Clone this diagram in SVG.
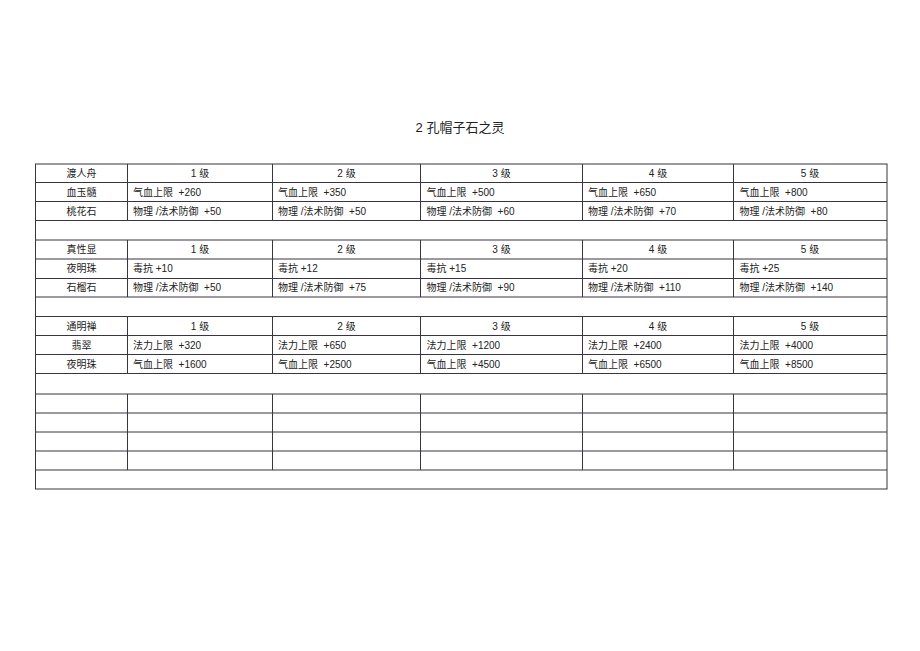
<svg xmlns="http://www.w3.org/2000/svg" width="920" height="651" viewBox="0 0 920 651">
<style>
text{font-family:"Liberation Sans","Noto Sans CJK SC",sans-serif;font-size:10px;fill:#222;white-space:pre}
.t{font-size:13px;text-anchor:middle}
.m{text-anchor:middle}
.g line{stroke:#3a3340;stroke-width:1}
.g rect{fill:none;stroke:#3a3340;stroke-width:1}
</style>
<rect x="0" y="0" width="920" height="651" fill="#ffffff"/>
<g id="title"><text class="t" x="460" y="132" xml:space="preserve">2 孔帽子石之灵</text></g>
<g id="grid" class="g">
<rect x="35.5" y="164" width="851.5" height="325"/>
<line x1="35.5" y1="182.5" x2="887" y2="182.5"/>
<line x1="35.5" y1="201.5" x2="887" y2="201.5"/>
<line x1="35.5" y1="220.5" x2="887" y2="220.5"/>
<line x1="35.5" y1="240" x2="887" y2="240"/>
<line x1="35.5" y1="259" x2="887" y2="259"/>
<line x1="35.5" y1="278.5" x2="887" y2="278.5"/>
<line x1="35.5" y1="297" x2="887" y2="297"/>
<line x1="35.5" y1="316.5" x2="887" y2="316.5"/>
<line x1="35.5" y1="335.5" x2="887" y2="335.5"/>
<line x1="35.5" y1="354.5" x2="887" y2="354.5"/>
<line x1="35.5" y1="373.5" x2="887" y2="373.5"/>
<line x1="35.5" y1="394" x2="887" y2="394"/>
<line x1="35.5" y1="413" x2="887" y2="413"/>
<line x1="35.5" y1="432" x2="887" y2="432"/>
<line x1="35.5" y1="451" x2="887" y2="451"/>
<line x1="35.5" y1="470" x2="887" y2="470"/>
<g id="cols1">
<line x1="127.5" y1="164" x2="127.5" y2="220.5"/>
<line x1="272.5" y1="164" x2="272.5" y2="220.5"/>
<line x1="420.5" y1="164" x2="420.5" y2="220.5"/>
<line x1="582.5" y1="164" x2="582.5" y2="220.5"/>
<line x1="733.5" y1="164" x2="733.5" y2="220.5"/>
</g>
<g id="cols2">
<line x1="127.5" y1="240" x2="127.5" y2="297"/>
<line x1="272.5" y1="240" x2="272.5" y2="297"/>
<line x1="420.5" y1="240" x2="420.5" y2="297"/>
<line x1="582.5" y1="240" x2="582.5" y2="297"/>
<line x1="733.5" y1="240" x2="733.5" y2="297"/>
</g>
<g id="cols3">
<line x1="127.5" y1="316.5" x2="127.5" y2="373.5"/>
<line x1="272.5" y1="316.5" x2="272.5" y2="373.5"/>
<line x1="420.5" y1="316.5" x2="420.5" y2="373.5"/>
<line x1="582.5" y1="316.5" x2="582.5" y2="373.5"/>
<line x1="733.5" y1="316.5" x2="733.5" y2="373.5"/>
</g>
<g id="cols4">
<line x1="127.5" y1="394" x2="127.5" y2="470"/>
<line x1="272.5" y1="394" x2="272.5" y2="470"/>
<line x1="420.5" y1="394" x2="420.5" y2="470"/>
<line x1="582.5" y1="394" x2="582.5" y2="470"/>
<line x1="733.5" y1="394" x2="733.5" y2="470"/>
</g>
</g>
<g id="block1" xml:space="preserve">
<text class="m" x="81.5" y="177">渡人舟</text>
<text class="m" x="200" y="177">1 级</text>
<text class="m" x="346.5" y="177">2 级</text>
<text class="m" x="501.5" y="177">3 级</text>
<text class="m" x="658" y="177">4 级</text>
<text class="m" x="810" y="177">5 级</text>
<text class="m" x="81.5" y="195.5">血玉髓</text>
<text x="133" y="195.5">气血上限  +260</text>
<text x="278" y="195.5">气血上限  +350</text>
<text x="426.5" y="195.5">气血上限  +500</text>
<text x="588" y="195.5">气血上限  +650</text>
<text x="739.5" y="195.5">气血上限  +800</text>
<text class="m" x="81.5" y="214.5">桃花石</text>
<text x="133" y="214.5">物理 /法术防御  +50</text>
<text x="278" y="214.5">物理 /法术防御  +50</text>
<text x="426.5" y="214.5">物理 /法术防御  +60</text>
<text x="588" y="214.5">物理 /法术防御  +70</text>
<text x="739.5" y="214.5">物理 /法术防御  +80</text>
</g>
<g id="block2" xml:space="preserve">
<text class="m" x="81.5" y="253">真性显</text>
<text class="m" x="200" y="253">1 级</text>
<text class="m" x="346.5" y="253">2 级</text>
<text class="m" x="501.5" y="253">3 级</text>
<text class="m" x="658" y="253">4 级</text>
<text class="m" x="810" y="253">5 级</text>
<text class="m" x="81.5" y="272">夜明珠</text>
<text x="133" y="272">毒抗 +10</text>
<text x="278" y="272">毒抗 +12</text>
<text x="426.5" y="272">毒抗 +15</text>
<text x="588" y="272">毒抗 +20</text>
<text x="739.5" y="272">毒抗 +25</text>
<text class="m" x="81.5" y="291">石榴石</text>
<text x="133" y="291">物理 /法术防御  +50</text>
<text x="278" y="291">物理 /法术防御  +75</text>
<text x="426.5" y="291">物理 /法术防御  +90</text>
<text x="588" y="291">物理 /法术防御  +110</text>
<text x="739.5" y="291">物理 /法术防御  +140</text>
</g>
<g id="block3" xml:space="preserve">
<text class="m" x="81.5" y="329.5">通明禅</text>
<text class="m" x="200" y="329.5">1 级</text>
<text class="m" x="346.5" y="329.5">2 级</text>
<text class="m" x="501.5" y="329.5">3 级</text>
<text class="m" x="658" y="329.5">4 级</text>
<text class="m" x="810" y="329.5">5 级</text>
<text class="m" x="81.5" y="348.5">翡翠</text>
<text x="133" y="348.5">法力上限  +320</text>
<text x="278" y="348.5">法力上限  +650</text>
<text x="426.5" y="348.5">法力上限  +1200</text>
<text x="588" y="348.5">法力上限  +2400</text>
<text x="739.5" y="348.5">法力上限  +4000</text>
<text class="m" x="81.5" y="367.5">夜明珠</text>
<text x="133" y="367.5">气血上限  +1600</text>
<text x="278" y="367.5">气血上限  +2500</text>
<text x="426.5" y="367.5">气血上限  +4500</text>
<text x="588" y="367.5">气血上限  +6500</text>
<text x="739.5" y="367.5">气血上限  +8500</text>
</g>
</svg>
